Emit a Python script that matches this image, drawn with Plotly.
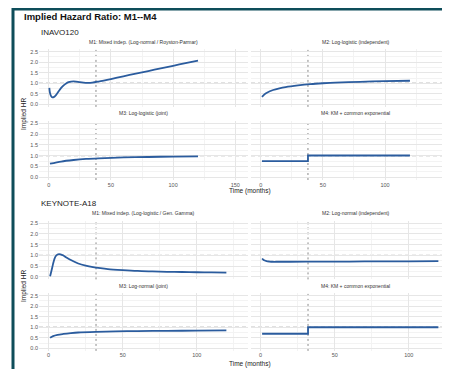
import plotly.graph_objects as go

# page body has an 8px margin: figure is placed at (8, 8) in the 450x369 window
OFF = 8
W, H = 450 - OFF, 369 - OFF

# ---------------- data ----------------
inavo_m1_t = [0.5, 1, 2, 3, 4, 6, 8, 10, 12, 14, 16, 18, 20, 22, 25, 28, 31, 35, 40, 50, 60, 70, 80, 90, 100, 110, 120]
inavo_m1_hr = [0.78, 0.55, 0.38, 0.33, 0.34, 0.45, 0.62, 0.78, 0.90, 0.99, 1.05, 1.08, 1.09, 1.08, 1.05, 1.03, 1.02, 1.03, 1.08, 1.20, 1.33, 1.46, 1.58, 1.71, 1.83, 1.96, 2.08]

inavo_m2_t = [1, 3, 5, 10, 15, 20, 30, 40, 50, 60, 80, 100, 120]
inavo_m2_hr = [0.35, 0.47, 0.55, 0.68, 0.76, 0.82, 0.90, 0.96, 1.00, 1.03, 1.07, 1.10, 1.12]

inavo_m3_t = [1, 10, 20, 30, 40, 60, 80, 100, 120]
inavo_m3_hr = [0.63, 0.73, 0.80, 0.85, 0.88, 0.92, 0.94, 0.96, 0.97]

inavo_m4_t = [1, 38, 120]
inavo_m4_hr = [0.75, 1.01, 1.01]

keynote_m1_t = [1, 2, 3, 4, 5, 6, 7, 8, 10, 12, 15, 20, 25, 30, 35, 40, 50, 60, 70, 80, 90, 100, 110, 120]
keynote_m1_hr = [0.02, 0.30, 0.60, 0.85, 0.98, 1.04, 1.06, 1.05, 0.99, 0.90, 0.78, 0.62, 0.52, 0.45, 0.40, 0.36, 0.31, 0.27, 0.25, 0.23, 0.22, 0.21, 0.20, 0.19]

keynote_m2_t = [1, 2, 4, 6, 8, 12, 20, 40, 60, 80, 100, 120]
keynote_m2_hr = [0.85, 0.78, 0.73, 0.71, 0.70, 0.70, 0.70, 0.71, 0.71, 0.72, 0.72, 0.73]

keynote_m3_t = [1, 3, 6, 10, 15, 20, 32, 45, 60, 80, 100, 120]
keynote_m3_hr = [0.50, 0.58, 0.64, 0.68, 0.72, 0.75, 0.78, 0.80, 0.82, 0.83, 0.84, 0.85]

keynote_m4_t = [1, 32, 120]
keynote_m4_hr = [0.69, 1.0, 1.0]

inavo_cut = 38
keynote_cut = 32

y_ticks = [0, 0.5, 1.0, 1.5, 2.0, 2.5]
y_tick_labels = ["0.0", "0.5", "1.0", "1.5", "2.0", "2.5"]
x_ticks = [0, 50, 100, 150]
x_tick_labels = ["0", "50", "100", "150"]

titles_inavo = ["M1: Mixed indep. (Log-normal / Royston-Parmar)", "M2: Log-logistic (independent)",
                "M3: Log-logistic (joint)", "M4: KM + common exponential"]
titles_keynote = ["M1: Mixed indep. (Log-logistic / Gen. Gamma)", "M2: Log-normal (independent)",
                  "M3: Log-normal (joint)", "M4: KM + common exponential"]

# ---------------- layout helpers (arguments are window pixels) ----------------
def px(x):
    return (x - OFF) / W

def py(y):
    return 1 - (y - OFF) / H

LINE = "#2b5c9e"
FONT = "Liberation Sans, Arial, sans-serif"
TICKC = "#555555"

L0, L1 = 39, 248
R0, R1, RFULL = 251, 450, 460

panels = [
    (inavo_m1_t, inavo_m1_hr, (L0, L1), (49.1, 106.9), [-7.8, 160.2], False, True, titles_inavo[0], inavo_cut),
    (inavo_m2_t, inavo_m2_hr, (R0, R1), (49.1, 106.9), [-7.8, 152.2], False, False, titles_inavo[1], inavo_cut),
    (inavo_m3_t, inavo_m3_hr, (L0, L1), (120.6, 180.0), [-7.8, 160.2], True, True, titles_inavo[2], inavo_cut),
    (inavo_m4_t, inavo_m4_hr, (R0, R1), (120.6, 180.0), [-7.8, 152.2], True, False, titles_inavo[3], inavo_cut),
    (keynote_m1_t, keynote_m1_hr, (L0, L1), (220.6, 279.4), [-6.5, 134.6], False, True, titles_keynote[0], keynote_cut),
    (keynote_m2_t, keynote_m2_hr, (R0, R1), (220.6, 279.4), [-6.5, 127.85], False, False, titles_keynote[1], keynote_cut),
    (keynote_m3_t, keynote_m3_hr, (L0, L1), (293.1, 350.9), [-6.5, 134.6], True, True, titles_keynote[2], keynote_cut),
    (keynote_m4_t, keynote_m4_hr, (R0, R1), (293.1, 350.9), [-6.5, 127.85], True, False, titles_keynote[3], keynote_cut),
]

fig = go.Figure()
shapes = []
annotations = []
layout_axes = {}

for i, (t, hr, xd, yd, xr, showx, showy, title, cut) in enumerate(panels, start=1):
    xa = "x" if i == 1 else f"x{i}"
    ya = "y" if i == 1 else f"y{i}"
    step = "M4" in title
    fig.add_trace(go.Scatter(
        x=t, y=hr, xaxis=xa, yaxis=ya, mode="lines",
        line=dict(color=LINE, width=1.8, shape="hv" if step else "spline", smoothing=0.8),
        showlegend=False, hoverinfo="skip"))
    xkey = "xaxis" if i == 1 else f"xaxis{i}"
    ykey = "yaxis" if i == 1 else f"yaxis{i}"
    layout_axes[xkey] = dict(
        domain=[px(xd[0]), min(1.0, px(xd[1]))], range=xr, anchor=ya,
        tickvals=x_ticks, ticktext=x_tick_labels, showticklabels=showx,
        tickfont=dict(size=5.5, color=TICKC, family=FONT), ticks="",
        showgrid=True, gridcolor="#e6e6e6", gridwidth=0.7, zeroline=False, showline=False,
        minor=dict(dtick=25, tick0=25, showgrid=True, gridcolor="#f3f3f3", gridwidth=0.5),
        fixedrange=True,
    )
    layout_axes[ykey] = dict(
        domain=[py(yd[1]), py(yd[0])], range=[-0.125, 2.625], anchor=xa,
        tickvals=y_ticks, ticktext=y_tick_labels, showticklabels=showy,
        tickfont=dict(size=5.5, color=TICKC, family=FONT), ticks="",
        showgrid=True, gridcolor="#e6e6e6", gridwidth=0.7, zeroline=False, showline=False,
        minor=dict(dtick=0.25, tick0=0.25, showgrid=True, gridcolor="#f3f3f3", gridwidth=0.5),
        fixedrange=True,
    )
    shapes.append(dict(type="line", xref=f"{xa} domain", yref=ya, x0=0, x1=1, y0=1, y1=1,
                       line=dict(color="#7a7a7a", width=0.9, dash="4px,3px"), layer="below"))
    shapes.append(dict(type="line", xref=xa, yref=f"{ya} domain", x0=cut, x1=cut, y0=0, y1=1,
                       line=dict(color="#7a7a7a", width=0.9, dash="2px,3px"), layer="below"))
    cx = (xd[0] + (RFULL if xd[0] == R0 else xd[1])) / 2
    annotations.append(dict(text=title, x=px(cx), y=py(yd[0] - 2.5), xref="paper", yref="paper",
                            xanchor="center", yanchor="bottom", showarrow=False,
                            font=dict(size=5, color="#333333", family=FONT)))

# frame (continues beyond the visible window on the right and bottom)
shapes.append(dict(type="rect", xref="paper", yref="paper", x0=px(13), x1=1.2, y0=py(9), y1=-0.2,
                   line=dict(color="#0e4d5a", width=3), fillcolor="rgba(0,0,0,0)"))

texts = [
    dict(text="<b>Implied Hazard Ratio: M1--M4</b>", x=px(22), y=py(17), xanchor="left", yanchor="middle",
         font=dict(size=9.5, color="#111111", family=FONT)),
    dict(text="INAVO120", x=px(39), y=py(32), xanchor="left", yanchor="middle",
         font=dict(size=8, color="#222222", family=FONT)),
    dict(text="KEYNOTE-A18", x=px(39), y=py(203.5), xanchor="left", yanchor="middle",
         font=dict(size=8, color="#222222", family=FONT)),
    dict(text="Implied HR", x=px(24), y=py(114), xanchor="center", yanchor="middle", textangle=-90,
         font=dict(size=6.5, color="#222222", family=FONT)),
    dict(text="Implied HR", x=px(24), y=py(286), xanchor="center", yanchor="middle", textangle=-90,
         font=dict(size=6.5, color="#222222", family=FONT)),
    dict(text="Time (months)", x=px(250), y=py(191), xanchor="center", yanchor="middle",
         font=dict(size=6.5, color="#222222", family=FONT)),
    dict(text="Time (months)", x=px(250), y=py(364), xanchor="center", yanchor="middle",
         font=dict(size=6.5, color="#222222", family=FONT)),
]
for a in texts:
    a.update(xref="paper", yref="paper", showarrow=False)
annotations += texts

fig.update_layout(
    width=W, height=H, margin=dict(l=0, r=0, t=0, b=0, autoexpand=False),
    paper_bgcolor="white", plot_bgcolor="white",
    shapes=shapes, annotations=annotations, showlegend=False,
    font=dict(family=FONT),
    **layout_axes,
)

fig.write_html("out.html", config={"displayModeBar": False})
